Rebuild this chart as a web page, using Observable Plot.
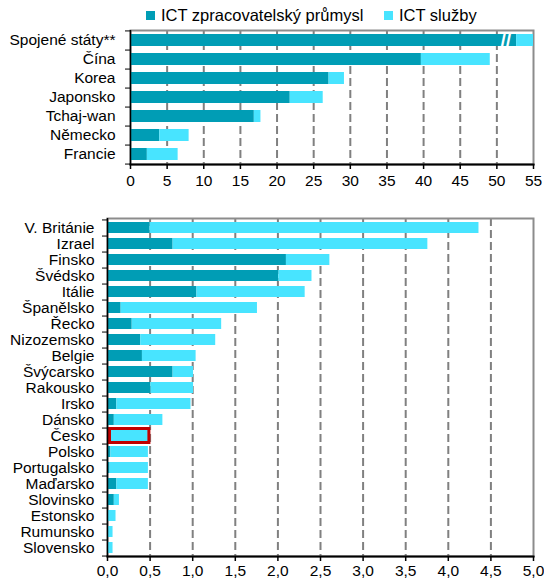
<!DOCTYPE html>
<html>
<head>
<meta charset="utf-8">
<script src="https://cdn.jsdelivr.net/npm/d3@7"></script>
<script src="https://cdn.jsdelivr.net/npm/@observablehq/plot@0.6"></script>
<style>
  body { margin: 0; background: #fff; font-family: "Liberation Sans", Arial, sans-serif; }
  #wrap { width: 544px; height: 583px; position: relative; overflow: hidden; }
  #legend { position: relative; height: 28px; font-size: 16.5px; color: #000; }
  .sw { position: absolute; width: 9px; height: 9px; top: 11px; }
  .lt { position: absolute; top: 6px; line-height: 18px; white-space: nowrap; }
  svg { display: block; }
</style>
</head>
<body>
<div id="wrap">
  <div id="legend"></div>
  <div id="top"></div>
  <div id="bottom"></div>
</div>
<script>
// ---- data ----
const seriesNames = ["ICT zpracovatelský průmysl", "ICT služby"];
const seriesColors = ["#009db5", "#48e4ff"];

const topCountries = ["Spojené státy**", "Čína", "Korea", "Japonsko", "Tchaj-wan", "Německo", "Francie"];
const topManufacturing = [52.7, 39.7, 27.1, 21.8, 16.9, 4.0, 2.3];
const topServices = [2.3, 9.4, 2.1, 4.5, 0.9, 4.0, 4.2];
const topTicks = [0, 5, 10, 15, 20, 25, 30, 35, 40, 45, 50, 55];
const usBreakAt = 51.2;

const bottomCountries = ["V. Británie", "Izrael", "Finsko", "Švédsko", "Itálie", "Španělsko", "Řecko", "Nizozemsko", "Belgie", "Švýcarsko", "Rakousko", "Irsko", "Dánsko", "Česko", "Polsko", "Portugalsko", "Maďarsko", "Slovinsko", "Estonsko", "Rumunsko", "Slovensko"];
const bottomManufacturing = [0.50, 0.77, 2.10, 2.01, 1.05, 0.16, 0.29, 0.39, 0.41, 0.77, 0.51, 0.11, 0.08, 0.02, 0.04, 0.03, 0.11, 0.08, 0.00, 0.00, 0.00];
const bottomServices = [3.86, 2.99, 0.51, 0.39, 1.27, 1.60, 1.05, 0.88, 0.63, 0.24, 0.50, 0.87, 0.57, 0.46, 0.44, 0.45, 0.37, 0.06, 0.10, 0.065, 0.065];
const bottomTicks = [0, 0.5, 1, 1.5, 2, 2.5, 3, 3.5, 4, 4.5, 5];
const highlighted = ["Česko"];

// ---- legend ----
const legend = document.getElementById("legend");
const legendPos = [[146, 161], [384, 399]];
seriesNames.forEach((s, i) => {
  const sw = document.createElement("div");
  sw.className = "sw"; sw.style.left = legendPos[i][0] + "px"; sw.style.background = seriesColors[i];
  const t = document.createElement("div");
  t.className = "lt"; t.style.left = legendPos[i][1] + "px"; t.textContent = s;
  legend.appendChild(sw); legend.appendChild(t);
});

function rows(countries, manuf, serv) {
  const out = [];
  countries.forEach((c, i) => {
    out.push({country: c, series: seriesNames[0], value: manuf[i]});
    out.push({country: c, series: seriesNames[1], value: serv[i]});
  });
  return out;
}

function panel({countries, manuf, serv, ticks, height, mt, mb, ml, mr, padIn, fmt, tickPad, labelPad, extra}) {
  const n = countries.length;
  const step = (height - mt - mb) / n;
  const xmax = ticks[ticks.length - 1];
  const data = rows(countries, manuf, serv);
  return Plot.plot({
    width: 544, height, marginTop: mt, marginBottom: mb, marginLeft: ml, marginRight: mr,
    style: {fontSize: "15.5px", fontFamily: "'Liberation Sans', Arial, sans-serif", color: "#000", background: "#fff"},
    x: {domain: [0, xmax], axis: null},
    y: {domain: countries, paddingInner: padIn, paddingOuter: padIn / 2, axis: null},
    color: {domain: seriesNames, range: seriesColors},
    marks: [
      Plot.ruleX(ticks.filter(t => t > 0 && t < xmax), {stroke: "#808080", strokeWidth: 2, strokeDasharray: "8,4"}),
      Plot.frame({stroke: "#8c8c8c", strokeWidth: 2}),
      Plot.barX(data, {x: "value", y: "country", fill: "series"}),
      ...(extra ? extra(step) : []),
      Plot.ruleX([0], {stroke: "#000", strokeWidth: 1.5}),
      Plot.frame({anchor: "bottom", stroke: "#000", strokeWidth: 2}),
      Plot.axisX({ticks, tickSize: 5, tickPadding: tickPad, tickFormat: fmt, stroke: "#000", strokeWidth: 1.5, label: null, fontSize: 15.5}),
      Plot.axisY({tickSize: 5, tickFormat: () => "", dy: step / 2, stroke: "#000", label: null}),
      Plot.axisY([countries[0]], {tickSize: 5, tickFormat: () => "", dy: -step / 2, stroke: "#000", label: null}),
      Plot.axisY({tickSize: 0, tickPadding: labelPad, fontSize: 15.5, label: null})
    ]
  });
}

document.getElementById("top").appendChild(panel({
  countries: topCountries, manuf: topManufacturing, serv: topServices, ticks: topTicks,
  height: 180, mt: 2, mb: 44, ml: 130, mr: 11, padIn: 0.38, tickPad: 5, labelPad: 15,
  fmt: d => String(d),
  extra: () => [
    Plot.text([topCountries[0]], {x: () => usBreakAt, y: d => d, text: () => "//", fill: "#fff", fontSize: 19, fontWeight: "bold"})
  ]
}));

document.getElementById("bottom").appendChild(panel({
  countries: bottomCountries, manuf: bottomManufacturing, serv: bottomServices, ticks: bottomTicks,
  height: 375, mt: 10, mb: 27, ml: 107, mr: 11, padIn: 0.32, tickPad: 3, labelPad: 13,
  fmt: d => d.toFixed(1).replace(".", ","),
  extra: () => [
    Plot.barX(highlighted, {
      x1: () => 0,
      x2: d => bottomManufacturing[bottomCountries.indexOf(d)] + bottomServices[bottomCountries.indexOf(d)],
      y: d => d, fill: "none", stroke: "#c00000", strokeWidth: 3, insetLeft: 2.5, insetRight: -1, insetTop: -1.5, insetBottom: -1.5
    })
  ]
}));
</script>
</body>
</html>
